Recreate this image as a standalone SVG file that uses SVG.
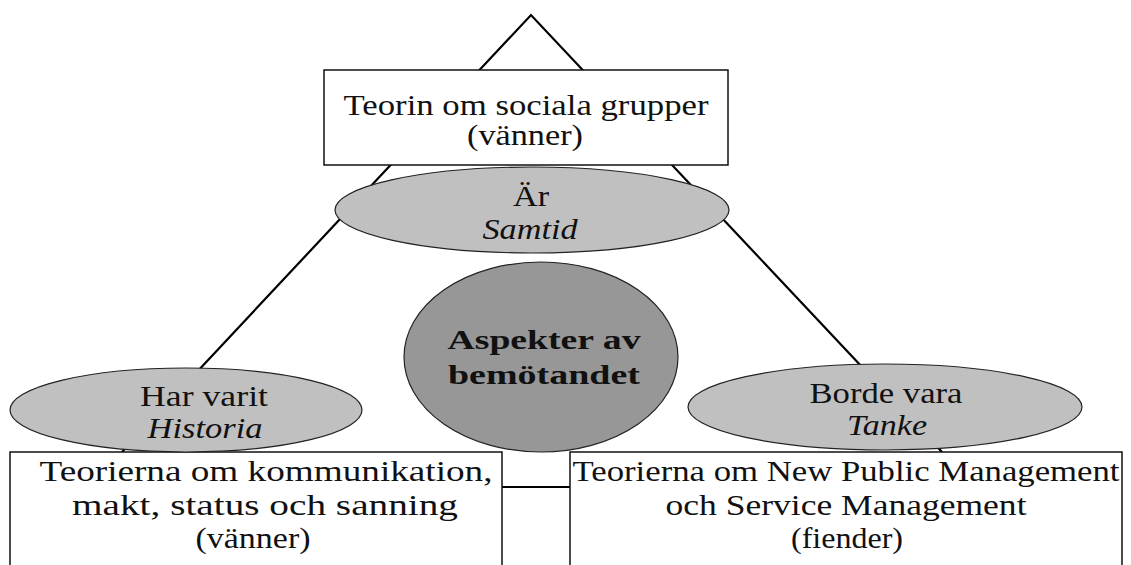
<svg xmlns="http://www.w3.org/2000/svg" width="1131" height="565" viewBox="0 0 1131 565">
<style>
text{font-family:"Liberation Serif","Times New Roman",serif;font-size:29px;fill:#111;text-anchor:middle;}
.it{font-style:italic;}
.b{font-weight:bold;font-size:27px;}
.box{fill:#fff;stroke:#111;stroke-width:1.5;}
.ell{fill:#c0c0c0;stroke:#222;stroke-width:1.2;}
.core{fill:#979797;stroke:#222;stroke-width:1.2;}
.ln{stroke:#000;stroke-width:2.2;fill:none;}
</style>
<rect width="1131" height="565" fill="#fff"/>
<g id="connectors">
<polyline class="ln" points="122,452 531,15 942,452"/>
<line class="ln" x1="502" y1="487" x2="570" y2="487"/>
</g>
<g id="top">
<rect class="box" x="324" y="70" width="404" height="95"/>
<text x="526" y="115" textLength="365" lengthAdjust="spacingAndGlyphs">Teorin om sociala grupper</text>
<text x="525" y="145" textLength="116" lengthAdjust="spacingAndGlyphs">(vänner)</text>
</g>
<g id="ar">
<ellipse class="ell" cx="532" cy="210" rx="197" ry="43"/>
<text x="531" y="206" textLength="36" lengthAdjust="spacingAndGlyphs">Är</text>
<text class="it" x="530" y="239" textLength="95" lengthAdjust="spacingAndGlyphs">Samtid</text>
</g>
<g id="left-box">
<rect class="box" x="10" y="452" width="492" height="120"/>
<text x="266" y="481" textLength="453" lengthAdjust="spacingAndGlyphs">Teorierna om kommunikation,</text>
<text x="265" y="515" textLength="386" lengthAdjust="spacingAndGlyphs">makt, status och sanning</text>
<text x="253" y="548" textLength="115" lengthAdjust="spacingAndGlyphs">(vänner)</text>
</g>
<g id="right-box">
<rect class="box" x="570" y="452" width="552" height="120"/>
<text x="846" y="481" textLength="547" lengthAdjust="spacingAndGlyphs">Teorierna om New Public Management</text>
<text x="846" y="515" textLength="361" lengthAdjust="spacingAndGlyphs">och Service Management</text>
<text x="847" y="548" textLength="112" lengthAdjust="spacingAndGlyphs">(fiender)</text>
</g>
<g id="core">
<ellipse class="core" cx="541" cy="357" rx="137" ry="95"/>
<text class="b" x="544" y="349" textLength="193" lengthAdjust="spacingAndGlyphs">Aspekter av</text>
<text class="b" x="544" y="384" textLength="192" lengthAdjust="spacingAndGlyphs">bemötandet</text>
</g>
<g id="har-varit">
<ellipse class="ell" cx="186" cy="410" rx="176" ry="42"/>
<text x="204" y="406" textLength="128" lengthAdjust="spacingAndGlyphs">Har varit</text>
<text class="it" x="205" y="438" textLength="115" lengthAdjust="spacingAndGlyphs">Historia</text>
</g>
<g id="borde-vara">
<ellipse class="ell" cx="885" cy="407" rx="197" ry="43"/>
<text x="886" y="403" textLength="153" lengthAdjust="spacingAndGlyphs">Borde vara</text>
<text class="it" x="887" y="435" textLength="80" lengthAdjust="spacingAndGlyphs">Tanke</text>
</g>
</svg>
